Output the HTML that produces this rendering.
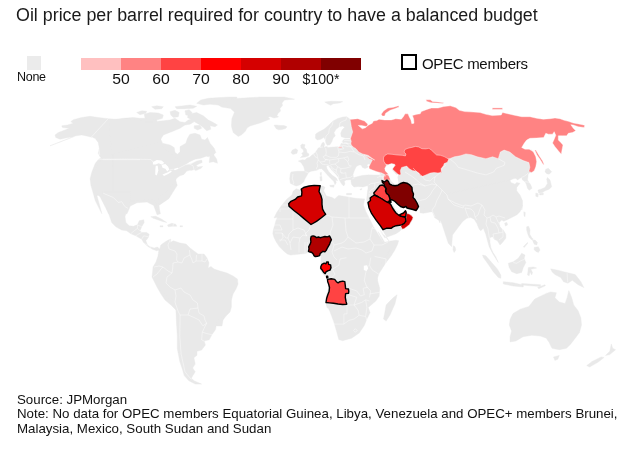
<!DOCTYPE html>
<html><head><meta charset="utf-8">
<style>
html,body{margin:0;padding:0;background:#fff;}
body{width:628px;height:450px;position:relative;overflow:hidden;font-family:"Liberation Sans",Arial,Helvetica,sans-serif;color:#111;}
#title{position:absolute;left:16px;top:4.5px;font-size:17.85px;line-height:20px;white-space:nowrap;color:#1a1a1a;}
#none-sw{position:absolute;left:27px;top:56px;width:14px;height:14px;background:#ebebeb;}
#none-lb{position:absolute;left:17px;top:70px;font-size:12.5px;line-height:14px;color:#111;letter-spacing:-0.3px;}
.sw{position:absolute;top:58px;height:12px;width:40px;}
.tk{position:absolute;top:71px;font-size:14.6px;line-height:16px;width:40px;text-align:center;color:#111;transform:scaleX(1.08);}
#opec-box{position:absolute;left:401px;top:54px;width:12px;height:12px;border:2px solid #000;box-sizing:content-box;}
#opec-lb{position:absolute;left:422px;top:55.4px;font-size:15px;line-height:17px;color:#111;letter-spacing:-0.3px;}
#foot{position:absolute;left:17px;top:393.2px;font-size:13.3px;line-height:14.25px;color:#111;white-space:nowrap;}
#map{position:absolute;left:0;top:0;}
</style></head>
<body>
<svg id="map" width="628" height="450" viewBox="0 0 628 450">
<g fill="#e9e9e9" stroke="#e9e9e9" stroke-width="0.4" stroke-linejoin="round">
<path d="M130.3,151.9L170.5,161.9L177.2,185.3L168.8,198.7L158.8,205.4L160.4,213.8L157.1,214.8L153.7,205.4L147.1,202.1L137.0,202.7L130.3,206.1L127.0,213.8L108.6,213.8L105.3,207.1L100.2,197.0L98.6,195.4L96.9,195.4L101.9,213.8L95.2,200.4L92.9,192.0L90.9,185.3L90.2,178.6L91.9,172.0L95.2,163.6L98.6,159.2L113.6,151.9Z"/>
<path d="M50.0,145.8L60.0,142.0L68.3,138.8L73.3,136.7L66.7,137.8L60.0,139.2L55.8,137.5L55.0,135.0L58.3,132.5L65.0,130.0L69.2,128.3L62.5,127.5L61.7,125.8L67.5,125.0L73.3,123.3L70.8,121.7L73.3,119.7L81.7,117.5L90.0,116.3L98.3,117.5L108.3,118.7L115.0,119.7L123.3,118.3L133.3,117.5L140.0,118.3L156.7,118.3L156.7,180.0L90.8,180.0L92.5,175.0L95.0,170.0L99.2,162.5L100.0,160.8L102.5,159.2L100.0,156.7L98.3,153.3L99.2,148.3L98.3,142.5L95.0,138.3L90.8,137.0L85.8,135.8L81.7,135.0L75.8,135.8Z"/>
<path d="M108.7,119.2L130.0,119.2L140.0,120.0L145.0,121.7L153.3,121.7L163.3,120.8L170.0,120.0L175.0,118.3L180.0,121.7L185.0,122.5L188.3,120.0L191.7,119.2L194.2,121.7L190.0,124.2L185.0,125.0L180.0,128.3L171.7,131.7L163.3,135.0L160.8,139.2L162.5,143.3L170.0,145.0L174.2,147.5L175.0,152.5L177.5,154.2L180.0,151.7L180.0,146.7L185.8,143.3L187.5,138.3L190.0,134.2L195.0,133.3L200.0,135.0L201.7,139.2L205.0,140.0L207.5,137.5L210.0,143.3L214.2,148.3L215.8,152.5L213.3,155.0L208.3,156.7L206.3,156.2L200.7,158.2L195.0,159.2L189.2,162.0L185.3,164.8L146.7,170.0L113.3,170.0Z"/>
<path d="M136.7,112.5L141.7,110.8L146.7,111.3L145.8,113.3L140.0,114.7Z"/>
<path d="M144.2,114.2L150.0,112.5L158.3,113.0L163.3,115.0L162.5,118.3L156.7,120.0L150.0,119.7L145.0,118.3Z"/>
<path d="M151.7,106.7L156.7,105.8L163.3,106.7L161.7,108.7L155.0,109.2Z"/>
<path d="M175.0,106.7L183.3,105.8L190.0,105.0L196.7,106.3L193.3,108.3L185.0,108.7L176.7,108.7Z"/>
<path d="M170.0,111.7L175.0,110.3L179.2,112.5L178.3,116.7L173.3,117.5L170.8,115.0Z"/>
<path d="M185.0,110.8L189.2,109.7L192.0,112.5L190.0,115.8L185.8,115.0Z"/>
<path d="M200.8,100.0L208.3,98.3L220.0,97.5L230.0,97.0L236.7,97.0L236.7,104.2L230.0,105.0L223.3,106.7L218.3,105.0L210.0,104.2L203.3,105.0L196.7,103.3Z"/>
<path d="M188.3,114.2L196.7,112.5L203.3,115.8L208.3,120.0L213.3,122.5L217.5,125.0L215.0,126.7L210.0,125.8L210.8,129.2L206.7,130.8L203.3,127.5L200.0,125.0L195.8,122.5L191.7,120.0L187.5,117.5Z"/>
<path d="M194.2,125.8L200.0,125.3L201.7,128.3L197.5,130.0L194.2,128.3Z"/>
<path d="M185.4,164.8L191.2,163.9L196.9,161.0L201.7,160.1L202.2,162.5L198.8,163.9L195.9,165.8L197.8,166.8L195.0,168.7L194.0,169.6L190.8,170.6L190.6,170.0L186.7,171.1L183.9,174.4L179.4,176.1L176.7,178.3L173.9,182.8L171.1,185.0L170.6,187.8L168.3,190.0L164.4,192.8L160.6,195.6L158.3,198.3L158.6,202.8L158.9,207.2L157.8,210.6L156.7,209.4L155.6,206.1L155.6,202.8L155.0,200.6L151.7,200.0L148.3,199.4L145.0,200.0L141.7,201.1L138.3,200.8L135.0,201.1L112.8,201.1L112.8,153.9L157.2,142.8Z"/>
<path d="M195.0,168.7L198.8,166.8L202.6,166.4L201.1,168.3L195.9,170.6L194.0,169.6Z"/>
<path d="M210.0,155.8L213.3,154.2L216.7,159.2L217.5,163.3L213.3,161.7L209.2,162.5Z"/>
<path d="M217.9,104.6L231.9,98.7L257.4,97.2L260.0,97.0L284.0,97.0L294.5,99.2L284.5,100.0L282.0,103.0L282.5,105.5L280.0,108.5L280.5,111.0L278.0,113.5L277.0,115.5L278.5,117.0L274.0,118.0L270.0,116.5L268.0,117.5L270.0,119.0L265.0,121.0L260.0,123.0L255.0,124.5L250.0,126.0L247.0,128.0L245.5,131.0L242.0,134.5L238.3,136.4L233.2,132.6L231.4,126.2L231.9,118.6L234.5,112.2L230.6,108.4L221.7,107.1Z"/>
<path d="M274.0,125.2L276.0,125.0L280.0,125.5L284.0,125.5L287.0,126.8L285.5,128.5L282.0,129.5L278.5,129.8L276.0,128.5L275.0,126.8Z"/>
<path d="M346.7,116.7L342.7,117.1L337.3,118.7L332.7,121.3L328.7,125.3L324.0,129.3L318.7,132.0L315.7,134.0L315.3,138.0L317.3,140.0L320.7,139.3L324.0,137.3L325.3,140.0L326.0,143.3L327.3,145.3L330.0,144.7L332.0,141.3L333.1,138.0L335.3,136.0L334.0,132.7L336.0,129.3L339.3,126.7L342.7,126.0L344.7,127.3L342.0,130.0L340.7,133.3L341.3,136.7L345.3,138.0L350.0,138.0L353.3,137.3L353.3,120.0L350.0,119.3Z"/>
<path d="M324.7,102.0L330.7,101.3L342.7,101.6L340.0,102.9L333.3,103.7L330.7,105.3L328.0,104.0Z"/>
<path d="M322.0,143.3L323.3,142.0L324.7,144.0L324.0,146.7L324.7,149.1L321.3,149.3L320.7,146.0Z"/>
<path d="M325.3,146.7L327.3,146.7L327.3,148.0L325.3,148.0Z"/>
<path d="M353.3,139.3L344.0,139.3L342.4,141.3L343.3,144.0L341.3,143.3L340.0,146.0L339.3,147.3L337.7,146.7L330.3,147.3L325.0,148.0L323.0,146.7L320.3,147.3L318.3,148.0L317.0,150.0L315.7,152.0L313.7,154.0L311.7,155.3L309.7,157.3L307.0,158.0L305.0,160.0L302.3,159.7L298.3,161.1L301.0,162.4L303.7,166.7L305.0,171.3L297.0,171.3L291.0,172.0L290.3,174.0L289.7,178.7L290.3,183.3L293.0,184.7L296.3,186.0L300.3,184.7L303.7,182.0L305.0,178.7L307.0,175.3L308.3,172.7L311.0,171.3L314.3,170.7L317.7,170.0L319.0,168.7L321.7,168.7L324.3,171.3L327.7,175.3L331.0,178.7L333.7,181.3L335.0,184.7L336.3,182.7L335.7,180.0L337.7,180.7L336.3,178.0L332.3,175.3L329.0,172.0L327.0,168.7L326.3,166.0L328.3,165.3L329.7,167.3L331.7,170.0L335.7,174.0L338.3,177.3L339.7,180.7L341.7,184.0L343.7,186.0L345.0,184.0L344.3,181.3L346.3,180.0L350.3,179.7L353.0,180.7L354.3,178.7L353.5,177.5L353.0,174.5L354.0,171.5L355.0,169.0L356.5,166.5L359.0,165.0L361.2,165.0L362.5,167.5L365.0,168.5L367.0,167.8L368.5,166.8L367.0,165.5L368.0,163.8L370.5,164.5L371.0,166.0L385.0,166.0L385.0,145.0Z"/>
<path d="M353.5,177.8L358.0,176.5L362.0,175.5L367.0,175.0L373.0,175.5L379.0,176.5L383.5,176.5L391.0,177.5L405.0,185.0L405.0,205.0L369.0,205.0L367.0,200.0L367.5,197.0L368.0,193.0L368.5,188.0L368.0,185.5L363.0,187.0L358.0,186.5L354.0,187.0L352.0,185.0L351.5,184.0L351.0,181.0L352.0,178.5Z"/>
<path d="M302.3,144.0L305.0,144.7L304.3,147.3L306.3,149.3L307.0,152.7L309.0,154.0L308.3,156.0L305.0,157.1L300.3,157.6L303.0,155.3L301.7,153.3L303.7,152.0L303.0,149.3L301.0,148.0L300.7,145.3Z"/>
<path d="M292.3,150.0L295.7,148.7L297.7,150.0L297.0,153.3L293.0,154.4L291.0,152.7Z"/>
<path d="M329.7,185.3L334.3,185.1L333.7,187.3L330.3,186.7Z"/>
<path d="M319.9,176.7L321.7,176.3L322.1,180.7L320.3,181.1Z"/>
<path d="M320.3,172.7L321.4,172.4L321.3,175.7L320.5,175.3Z"/>
<path d="M346.5,193.4L351.6,193.4L351.6,194.7L346.5,194.7Z"/>
<path d="M360.0,189.2L362.0,188.5L361.8,189.5L360.2,190.0Z"/>
<path d="M420.0,183.3L420.0,212.7L423.3,213.3L431.7,211.7L436.7,213.3L434.0,216.0L438.3,216.7L441.7,223.3L445.0,233.3L448.3,243.3L451.7,246.7L451.7,245.0L452.5,235.0L457.5,228.3L462.5,221.7L466.7,218.3L470.8,217.5L474.2,219.2L476.7,223.3L479.2,229.2L480.8,230.8L483.3,228.3L485.8,234.2L487.5,240.8L489.2,246.7L492.5,253.3L496.7,260.0L498.3,262.5L495.8,256.7L493.0,252.5L490.8,247.5L490.0,242.5L490.0,237.5L492.5,236.7L494.2,239.2L497.5,240.8L500.0,245.0L502.5,242.5L505.8,238.3L505.8,234.2L503.3,230.0L500.0,226.7L499.2,222.5L501.7,220.0L503.7,221.2L506.7,220.0L511.7,217.5L516.7,215.0L520.0,211.7L521.7,208.3L522.5,205.0L521.7,210.0L522.5,205.0L522.5,200.8L520.0,195.0L516.7,190.8L516.7,187.5L520.0,183.3L516.7,182.5L515.0,184.2L510.8,182.5L510.0,180.0L513.3,177.5L515.8,178.3L517.5,180.0L520.0,178.3L521.7,177.5L522.5,180.0L525.0,181.7L526.3,184.2L527.5,188.3L529.2,190.3L532.0,188.3L530.8,185.0L527.5,180.0L528.3,173.3L530.8,171.7L530.0,160.0L486.7,150.0L420.0,150.0Z"/>
<path d="M453.3,245.8L455.0,246.7L455.8,250.0L454.2,252.5L453.0,250.0Z"/>
<path d="M504.7,223.0L507.0,222.5L507.5,225.0L505.3,226.0Z"/>
<path d="M523.8,211.7L525.3,212.5L525.0,216.7L524.0,215.8Z"/>
<path d="M545.8,169.2L548.3,168.3L551.7,171.7L549.2,174.2L546.7,173.7L545.0,171.7Z"/>
<path d="M547.5,177.5L550.0,180.0L551.7,186.7L549.2,189.2L545.0,190.8L542.5,192.5L538.7,193.0L538.0,190.0L540.8,189.2L545.0,187.5L547.5,183.3L546.7,179.2Z"/>
<path d="M539.7,193.3L543.3,193.3L543.3,194.7L539.7,195.0Z"/>
<path d="M535.8,193.0L538.3,193.7L538.0,197.0L535.8,196.3Z"/>
<path d="M526.7,226.7L528.7,226.3L530.0,230.0L529.7,234.2L531.7,237.5L533.3,239.2L532.0,240.0L529.2,237.5L527.5,233.3L526.7,230.0Z"/>
<path d="M532.5,240.3L535.0,240.0L537.5,242.5L536.7,245.0L534.2,244.2Z"/>
<path d="M534.2,247.5L538.3,246.7L540.0,250.0L538.3,252.5L535.8,251.3L534.2,249.7Z"/>
<path d="M523.3,246.7L527.5,242.5L528.0,243.0L524.2,247.5Z"/>
<path d="M508.3,263.3L513.3,261.7L518.3,258.3L521.7,253.3L525.0,255.0L524.2,258.3L525.8,262.5L523.3,267.5L521.7,272.5L516.7,273.7L511.7,271.7L509.2,267.5Z"/>
<path d="M482.5,255.0L485.8,255.8L491.7,262.5L497.5,269.2L500.8,275.0L500.8,278.3L498.3,277.5L493.3,271.7L487.5,263.3L483.3,257.5Z"/>
<path d="M503.3,281.7L513.3,282.7L523.3,285.0L523.3,287.0L513.3,286.0L503.3,284.0Z"/>
<path d="M528.3,267.5L533.3,267.0L536.7,268.0L533.3,268.7L530.8,269.2L532.5,272.5L531.7,275.0L530.0,271.7L529.2,275.8L527.5,275.0L528.0,270.8Z"/>
<path d="M510.1,319.4L513.0,313.6L520.3,309.2L528.9,306.4L534.7,299.1L540.5,296.2L546.3,293.4L550.6,291.9L556.4,292.8L554.9,297.7L559.3,302.0L565.1,303.5L567.1,297.7L568.8,290.5L571.7,297.7L573.7,304.9L578.1,310.7L580.9,317.9L581.5,325.1L579.5,332.4L575.2,338.2L570.8,343.9L566.5,348.3L559.3,349.7L552.0,348.3L549.2,342.5L546.3,338.2L540.5,336.1L531.8,335.3L523.1,336.7L515.9,341.0L510.1,341.9L510.1,336.7L511.6,330.9L509.3,325.1Z"/>
<path d="M553.5,356.9L559.3,355.5L557.8,359.2L554.9,360.4Z"/>
<path d="M586.7,365.6L592.5,361.3L601.2,356.9L604.1,357.5L598.3,362.1L589.6,367.1Z"/>
<path d="M605.5,355.5L609.8,351.2L611.3,343.9L612.7,348.3L615.6,349.7L609.8,354.6Z"/>
<path d="M550.6,268.8L557.8,270.2L563.6,271.7L575.2,274.6L580.9,281.8L583.8,287.6L578.1,284.7L572.3,280.3L567.9,283.2L563.6,281.8L560.7,277.5L554.9,274.6L552.0,271.7Z"/>
<path d="M521.7,283.5L530.4,284.1L540.5,284.7L540.5,286.4L530.4,285.8L521.7,285.0Z"/>
<path d="M537.6,287.6L544.8,284.7L545.4,285.8L538.8,288.7Z"/>
<path d="M293.0,191.3L296.3,188.7L299.7,190.0L301.7,188.7L306.3,187.3L311.7,186.4L320.3,186.0L323.0,186.0L325.0,187.3L323.7,190.7L325.0,193.3L326.3,196.0L331.7,197.3L334.6,198.9L338.6,195.4L345.3,196.6L355.4,198.3L364.6,198.9L363.4,205.0L365.9,211.7L369.3,218.3L372.6,225.0L376.6,231.7L380.6,238.3L383.9,243.7L378.0,231.7L382.0,237.7L384.7,242.3L390.7,241.0L396.0,240.3L398.7,240.7L397.3,245.0L394.7,250.3L391.3,255.7L386.7,261.7L382.7,267.7L379.3,273.0L377.3,278.3L376.7,285.0L376.6,288.3L356.7,301.1L327.1,308.0L326.1,302.7L326.7,297.6L328.0,292.9L329.9,288.2L328.6,283.5L327.1,279.7L326.1,276.9L323.3,274.1L321.0,271.2L319.9,268.0L321.4,263.7L324.2,259.9L323.3,256.1L320.5,255.2L315.8,256.1L309.0,252.3L305.1,253.5L300.7,254.0L295.1,254.6L290.6,255.1L287.3,254.0L283.4,250.7L279.5,246.8L276.1,241.8L273.9,237.3L272.8,233.4L273.4,229.5L274.5,226.1L275.6,221.7L277.3,217.2L274.0,218.0L277.0,212.0L282.0,205.0L287.0,199.0L292.0,195.0Z"/>
<path d="M320.9,265.3L322.2,273.0L326.0,276.8L328.1,280.7L328.6,288.3L326.0,297.3L326.0,303.7L329.8,311.3L333.7,321.6L336.7,331.8L338.8,339.5L342.6,340.7L351.6,338.2L359.2,333.1L364.3,325.4L366.9,319.0L370.0,312.6L368.2,307.5L375.8,301.1L379.2,296.0L379.7,288.3L377.6,280.7L376.6,273.0L379.7,265.3L384.8,257.7L389.9,250.0L320.9,250.0Z"/>
<path d="M384.8,312.6L383.5,319.0L386.1,321.1L389.9,315.2L395.0,303.7L397.1,294.7L393.7,297.3L389.9,301.1L386.1,305.0Z"/>
<path d="M130.8,191.7L130.0,204.2L126.7,210.0L125.0,216.7L125.8,222.5L129.2,225.8L133.3,226.3L137.5,224.7L139.2,220.8L143.7,219.7L144.2,222.5L141.7,226.7L140.0,230.8L141.7,232.5L146.7,232.5L149.2,234.2L148.3,237.5L145.8,240.8L147.5,245.0L150.0,246.7L154.2,248.0L157.5,247.0L159.7,249.2L159.2,250.0L156.7,250.8L152.5,249.2L148.3,246.7L144.2,243.3L141.7,239.2L135.8,235.8L130.8,233.7L126.7,230.8L121.7,230.0L115.8,226.7L111.7,222.5L109.2,215.0L105.8,205.0L103.3,195.0L103.3,191.7Z"/>
<path d="M150.8,216.7L155.8,216.3L161.7,219.2L166.7,222.5L163.3,221.7L158.3,220.0L153.3,218.3Z"/>
<path d="M167.5,225.0L171.7,223.3L175.8,224.2L176.7,226.3L171.7,226.3L168.3,226.7Z"/>
<path d="M160.0,225.8L163.0,225.8L163.0,226.8L160.0,226.8Z"/>
<path d="M180.0,225.8L182.5,225.8L182.5,226.7L180.0,226.7Z"/>
<path d="M159.7,249.2L160.8,245.0L164.2,242.5L168.3,240.0L170.8,239.2L170.3,242.5L173.3,240.8L180.0,243.0L186.0,244.0L190.0,248.0L194.0,251.0L198.0,254.0L204.0,254.0L207.0,258.0L209.0,263.0L208.0,268.0L211.0,266.4L214.0,269.0L220.0,271.0L227.0,273.0L233.0,276.0L237.4,279.0L238.0,284.0L236.0,289.0L233.0,294.0L231.4,300.0L231.4,307.0L230.0,312.0L226.0,316.0L223.0,320.0L222.0,326.0L177.4,326.0L177.4,320.0L177.0,316.0L176.0,310.0L171.0,305.0L165.0,300.0L161.0,294.0L157.0,287.0L154.0,281.0L152.0,277.0L152.6,272.0L153.0,267.0L156.0,262.0L158.0,256.0L159.0,249.0Z"/>
<path d="M233.5,290.0L231.0,297.7L229.7,307.9L225.8,315.6L219.5,318.1L216.4,323.2L215.6,329.6L211.8,334.7L209.2,339.8L204.1,341.1L205.4,345.0L201.6,350.1L197.0,351.3L197.0,355.2L193.9,357.7L195.2,364.1L192.6,368.0L195.2,371.8L191.3,378.2L193.9,380.7L201.6,384.1L195.2,384.1L188.8,380.7L184.2,375.6L182.4,369.2L179.8,361.6L177.3,348.8L177.3,336.0L176.5,323.2L176.0,310.4L174.7,300.2L168.3,297.7L160.7,290.0Z"/>
<path d="M380.0,150.0L532.0,150.0L532.0,172.0L510.0,180.0L420.0,200.0L380.0,200.0Z"/>
<path d="M368.0,188.3L367.3,193.7L366.7,199.0L367.3,203.7L367.7,203.7L371.0,211.0L375.7,219.7L380.3,226.3L385.0,234.3L389.0,241.0L380.0,230.3L384.7,237.7L390.7,235.7L396.0,233.7L400.0,231.0L402.7,228.3L406.7,226.3L409.3,224.3L411.3,221.7L413.3,217.7L411.3,215.0L408.0,213.9L406.4,211.7L404.7,213.0L402.7,214.3L400.0,214.7L398.0,213.0L397.6,210.3L396.7,211.0L395.3,208.3L392.7,204.6L390.9,201.0L393.3,201.0L396.0,203.3L399.3,205.9L402.7,207.7L406.0,207.0L407.3,209.0L410.7,209.9L415.3,210.3L418.7,207.7L424.0,208.3L429.3,209.9L432.7,212.3L434.7,217.7L438.7,220.3L440.0,223.0L440.0,175.0L368.0,175.0Z"/>
</g>
<path fill="#ff8383" stroke="#fff" stroke-width="0.4" stroke-linejoin="round" d="M350.0,119.4L357.8,118.7L364.5,121.0L367.9,124.3L366.7,126.6L361.2,125.4L358.3,125.4L362.3,128.8L365.6,127.7L367.9,125.4L372.3,123.2L373.4,121.0L376.8,120.5L379.0,119.2L384.6,119.9L391.3,119.9L395.7,118.7L401.3,119.2L403.5,116.5L405.1,113.8L408.0,113.8L409.1,116.5L410.9,119.9L411.8,123.7L414.0,123.2L413.6,118.7L412.4,115.4L416.9,114.3L420.2,113.8L421.4,111.6L426.9,109.4L431.4,108.0L438.1,108.0L443.7,106.5L450.3,105.8L455.9,107.6L459.3,110.3L464.8,111.6L473.7,112.1L480.0,112.5L485.9,114.3L492.3,115.6L501.2,115.0L502.5,112.5L513.3,115.0L521.7,116.7L530.0,116.7L536.7,118.3L543.3,119.2L550.0,118.7L555.0,118.0L560.0,118.7L564.2,120.3L568.3,121.3L573.3,123.0L580.0,124.2L584.7,125.3L584.2,127.5L578.3,126.7L573.3,125.0L570.8,124.7L573.3,128.3L575.8,130.8L572.5,132.5L568.3,133.3L566.7,135.8L562.5,135.8L558.3,135.8L558.3,140.0L560.8,142.5L563.0,145.0L562.0,150.0L561.3,154.2L558.3,150.8L555.0,146.7L552.5,143.0L554.2,139.2L555.8,135.3L554.2,131.7L552.5,134.2L548.3,134.2L545.8,133.3L543.7,137.5L536.7,138.0L530.0,138.3L526.7,140.0L524.2,143.3L521.7,147.5L525.0,149.2L529.2,149.2L533.3,151.7L535.8,156.7L536.7,161.7L535.8,166.7L534.2,170.8L531.7,172.5L529.2,171.7L528.9,171.1L529.9,167.3L528.9,162.5L523.2,160.6L515.5,156.8L509.8,152.0L504.1,150.1L500.3,152.0L498.3,158.7L492.6,156.8L485.9,158.7L477.3,156.8L471.6,154.8L465.9,153.9L460.1,155.8L454.4,156.8L449.6,158.7L444.2,159.1L434.1,155.3L429.0,151.5L416.2,148.9L407.3,151.5L406.0,156.6L392.0,156.6L385.6,157.8L385.0,162.3L386.3,165.5L384.8,168.5L385.5,171.0L387.5,173.0L389.0,175.0L387.0,174.5L386.0,176.0L384.3,174.3L381.7,173.0L377.0,171.7L372.3,170.0L369.3,168.7L369.0,166.7L370.3,164.0L372.3,160.0L369.5,159.0L367.0,157.0L364.0,155.0L374.7,160.0L372.7,158.7L368.0,155.3L362.7,154.0L358.7,152.0L356.0,148.7L352.7,146.7L350.7,144.0L351.3,141.3L350.4,138.7L351.3,136.0L352.7,132.0L351.3,126.7L350.7,122.7Z"/>
<path fill="#ff8383" stroke="#fff" stroke-width="0.4" stroke-linejoin="round" d="M381.2,114.3L383.5,110.9L387.9,108.0L393.5,107.2L398.4,105.8L399.1,106.9L394.6,108.7L390.2,110.3L385.7,113.2L384.6,116.1L382.4,116.1Z"/>
<path fill="#ff8383" stroke="#fff" stroke-width="0.4" stroke-linejoin="round" d="M425.8,99.8L430.3,99.8L432.5,101.4L438.1,102.0L443.7,102.7L443.0,103.6L437.0,103.1L431.4,102.7L426.9,101.4Z"/>
<path fill="#ff8383" stroke="#fff" stroke-width="0.4" stroke-linejoin="round" d="M338.7,146.9L342.0,146.9L342.0,147.7L338.7,147.7Z"/>
<path fill="#ff8383" stroke="#fff" stroke-width="0.4" stroke-linejoin="round" d="M534.7,150.0L535.8,150.0L539.2,155.8L542.5,160.8L544.2,164.7L543.0,164.2L540.0,159.2L537.0,155.0Z"/>
<path fill="#ff8383" stroke="#fff" stroke-width="0.4" stroke-linejoin="round" d="M492.3,107.9L502.5,107.9L502.5,109.4L492.3,109.4Z"/>
<path fill="#ff4343" stroke="#fff" stroke-width="0.4" stroke-linejoin="round" d="M383.7,157.2L385.0,155.3L387.6,154.0L392.0,154.3L397.1,155.0L402.2,155.3L405.4,155.9L406.0,154.0L404.1,152.1L404.8,149.6L407.9,148.3L411.8,147.4L415.6,146.4L418.8,147.0L421.9,148.7L425.8,148.9L429.0,148.3L431.5,150.2L434.1,152.7L436.6,155.0L440.4,155.3L444.2,156.6L448.7,159.1L447.4,162.3L444.2,163.6L443.6,165.5L441.1,168.7L441.7,172.5L437.9,172.9L434.1,172.5L430.2,173.1L427.0,174.4L422.6,176.3L420.7,175.7L418.8,173.1L416.2,171.2L412.4,170.6L409.2,168.7L406.7,166.1L404.1,166.8L401.6,167.4L400.3,170.6L400.9,174.4L399.0,175.0L397.1,173.4L394.6,171.2L392.6,169.3L393.3,167.4L395.2,165.5L394.6,164.2L391.4,163.6L388.2,164.8L385.6,164.2L384.1,161.7L383.4,159.1Z"/>
<path fill="#ff8383" stroke="#fff" stroke-width="0.4" stroke-linejoin="round" d="M384.0,175.5L387.0,174.5L389.0,176.0L390.0,178.5L389.7,181.2L388.0,179.5L385.0,181.0L383.5,179.0Z"/>
<path fill="#d50000" stroke="#fff" stroke-width="0.4" stroke-linejoin="round" d="M406.7,213.6L409.1,214.0L411.4,215.6L413.0,217.5L412.2,219.8L410.6,222.2L409.5,224.5L406.7,226.8L404.4,228.4L402.5,229.2L400.9,226.5L401.7,224.9L404.4,223.3L406.0,221.0L406.0,217.9L406.3,215.2Z"/>
<path fill="#d50000" stroke="#fff" stroke-width="0.4" stroke-linejoin="round" d="M405.6,210.9L406.5,210.9L406.7,212.8L405.8,212.8Z"/>
<path fill="#fff" d="M391.5,164.0L394.5,164.5L394.0,167.0L392.2,168.5L392.5,170.5L394.5,172.5L396.2,174.5L398.5,174.5L397.5,177.0L398.0,180.0L398.5,183.0L396.5,184.5L394.5,184.0L391.5,181.5L390.0,178.5L389.0,175.5L387.5,173.0L385.5,171.0L384.8,168.5L386.5,166.0L389.0,164.5Z"/>
<path fill="#fff" d="M152.9,162.0L156.8,160.1L161.5,160.6L164.4,162.9L161.5,164.5L158.7,163.3L155.8,164.5L152.9,164.5Z"/>
<path fill="#fff" d="M155.8,165.8L157.7,165.8L158.3,170.6L156.8,175.4L155.2,174.4L155.4,168.7Z"/>
<path fill="#fff" d="M161.5,164.8L165.4,163.9L168.2,166.8L169.2,169.6L167.3,171.5L165.4,168.7L162.5,167.7Z"/>
<path fill="#fff" d="M162.5,174.4L167.3,172.5L171.1,170.6L171.7,171.7L168.2,174.0L164.0,175.9Z"/>
<path fill="#fff" d="M173.6,169.0L177.8,167.7L178.7,168.7L174.9,170.2Z"/>
<path fill="#fff" d="M391.7,201.0L394.3,200.7L396.3,203.3L398.7,205.7L402.0,207.3L405.3,207.5L406.7,208.3L406.0,210.0L404.7,211.3L403.0,213.0L400.0,212.3L397.3,211.3L395.3,209.0L393.3,205.7L391.7,203.3Z"/>
<path fill="#fff" d="M363.8,265.8L366.9,265.3L368.2,268.4L366.4,271.0L363.8,269.9Z"/>
<path fill="none" stroke="#fff" stroke-width="0.5" stroke-linejoin="round" stroke-opacity="0.85" d="M108.3,118.7L91.7,136.7L95.8,140.8L98.7,147.5L99.7,155.0 M102.5,159.7L140.0,159.7 M91.8,159.3L130.0,159.1L151.0,159.5L152.9,162.0 M169.2,170.0L173.6,169.2 M178.7,168.3L185.4,164.8L189.2,163.9L193.1,165.8L194.0,169.6 M103.3,193.3L113.3,197.5L118.3,202.5L121.7,201.7L125.0,206.7L128.0,208.3 M130.8,233.7L134.2,230.8L137.5,228.3L140.0,230.8 M137.5,228.3L137.5,225.0L141.7,226.7 M135.8,235.8L139.2,233.7L141.7,232.5 M141.7,239.2L143.7,235.8L148.3,236.7 M144.2,243.3L147.5,245.0 M150.0,246.7L150.8,248.7 M173.3,223.7L173.0,226.3 M170.0,240.0L168.0,245.0L169.0,249.0L175.0,251.0L177.0,254.0L176.6,260.0L178.0,262.0 M178.0,262.0L182.0,263.0L184.0,258.0L188.0,256.0L190.0,255.0L189.4,250.0 M190.0,255.0L192.0,260.0L193.0,263.0L196.0,261.0L196.6,255.0 M196.0,261.0L202.0,261.0L202.0,254.0 M202.0,261.0L205.0,262.0L207.0,259.0 M178.0,262.0L173.0,263.0L172.6,269.0L172.0,273.0 M154.0,267.0L159.0,266.0L163.0,267.0L168.0,271.0L172.0,273.0 M153.0,277.0L157.0,274.0L161.0,269.0L163.0,267.0 M172.0,273.0L167.0,277.0L166.0,283.0L170.0,287.0L175.0,290.0 M175.0,290.0L176.0,296.0L175.0,302.0L176.6,307.0L178.0,311.0L180.0,315.0 M175.0,290.0L181.0,288.0L184.0,292.0L190.0,295.0L193.0,300.0L197.4,303.0L198.0,308.0 M180.0,315.0L188.0,315.0L190.0,309.0L198.0,308.0L199.0,313.0L204.0,316.0L205.0,320.0 M188.0,315.0L193.0,317.0L199.0,320.0 M180.1,315.0L179.8,336.0L181.1,353.9L185.0,371.8L191.3,379.5 M204.9,319.9L206.7,323.2L204.1,328.3L202.3,332.2L201.6,339.8L204.1,341.1 M202.3,332.2L206.7,333.5L211.8,334.7 M199.0,319.9L202.8,325.8L206.7,323.2 M282.0,205.0L289.0,205.0L289.0,200.0 M280.0,212.0L280.0,209.0L289.0,209.0L289.0,205.0 M293.0,205.0L293.0,219.0L275.0,219.0 M293.0,219.0L293.0,230.0L289.0,234.0L288.0,238.0L290.0,243.0L291.0,250.0 M273.0,225.0L280.0,225.0L282.0,230.0L274.0,230.0 M275.0,233.0L282.0,233.0L286.0,238.0L288.0,238.0 M279.0,240.0L285.0,240.0L288.0,245.0 M282.0,233.0L283.0,237.4L280.0,241.4 M299.0,243.0L299.0,252.6 M305.0,242.0L305.0,253.0 M307.2,242.0L308.0,253.0 M293.0,230.0L298.0,228.0L304.0,230.0L307.0,236.0L303.0,235.0L300.0,238.0L293.0,237.0L290.0,243.0 M299.0,243.0L300.0,238.0 M311.0,224.0L309.0,230.0L305.0,234.0L307.0,236.0 M332.0,217.0L333.0,225.0L330.0,233.0L331.0,237.4 M349.0,197.0L349.0,218.0L345.0,218.0L332.0,217.0L326.0,214.6 M349.0,218.0L372.0,218.0 M345.0,218.0L346.0,231.0L348.0,237.0L345.0,241.0L342.0,243.0L334.0,245.0L331.0,239.0 M348.0,237.0L356.0,243.0L364.0,242.0L370.0,239.0L372.0,228.0L377.0,223.0 M334.0,245.0L332.0,252.0L334.0,257.0L337.0,260.0 M334.0,251.0L342.0,247.0L348.0,249.0L356.0,248.0L362.0,250.0L366.0,253.0L372.0,251.0L374.0,245.0L370.0,239.0 M322.0,202.0L325.0,197.0L323.0,193.0 M372.0,228.0L379.0,230.0L384.0,235.0 M374.0,245.0L382.0,245.0L388.0,242.0 M332.4,269.2L335.0,274.3L331.1,278.1L328.1,280.2 M332.4,269.2L338.8,265.3L340.1,258.9L346.5,257.7 M349.0,288.3L356.7,290.9L360.5,296.0L364.3,294.7L363.1,288.3L368.2,287.1 M368.2,265.3L365.6,273.0L364.3,280.7L366.9,287.1L370.7,290.9L369.5,297.3 M369.5,265.3L372.0,269.9L381.0,275.6 M369.5,294.0L379.7,292.2 M354.1,305.0L361.8,302.4L365.6,299.8L369.5,301.1 M347.0,305.0L352.8,305.0L354.1,305.0 M347.0,305.0L347.0,313.9L343.9,313.9L343.9,324.1L333.7,324.1 M343.9,324.1L349.0,320.3L354.1,319.0L359.2,315.2L358.0,310.1L354.1,305.0 M359.2,315.2L365.6,316.5L366.9,320.3 M365.6,299.8L366.9,307.5L365.6,316.5 M353.6,330.5L355.4,328.7L357.2,330.5L355.4,332.3L353.6,330.5 M370.7,257.7L369.5,265.3 M374.6,256.4L386.1,258.9L384.8,269.2 M348.5,294.7L356.7,297.3L354.1,305.0 M293.0,174.0L292.3,178.7L293.7,182.7L293.0,184.7 M305.0,171.7L308.3,172.7 M313.7,154.0L315.0,156.7L317.7,158.0L318.3,160.0L317.0,163.3L317.7,166.0L316.3,168.7L317.7,170.0 M315.7,152.0L317.0,154.0L317.7,158.0 M319.9,147.6L323.0,146.9 M325.7,148.0L326.3,152.7L325.7,155.3L323.0,156.7L325.0,159.3L327.7,160.0 M318.3,160.0L320.3,162.0L325.0,161.3L325.7,159.3L329.7,160.0 M337.7,147.3L339.0,152.0L338.3,156.0L336.3,157.3L330.3,157.3L325.7,155.3 M320.3,162.0L321.7,164.0L325.0,164.7L328.3,164.7 M329.7,160.0L329.7,163.3L331.0,164.7L335.0,164.0L339.0,161.3L338.3,158.7L334.3,159.3L329.7,160.0 M338.3,158.7L343.7,158.0L347.7,161.3L349.0,165.3L351.7,166.0 M341.0,168.7L346.3,168.0L351.0,166.7 M335.0,164.0L337.7,166.7L341.0,168.7L340.3,172.0L342.3,174.0 M328.3,165.3L331.0,166.0L333.0,168.7L336.3,170.0L337.7,166.7 M331.0,167.3L333.0,170.7L336.3,172.7L336.3,170.0 M336.3,172.7L338.3,175.3L339.0,178.0 M339.0,152.0L345.0,152.7L350.3,151.3L354.3,152.0 M345.7,142.7L349.0,145.3L351.7,148.0L354.3,152.0L359.0,154.7L363.7,156.0L365.0,160.0 M342.3,146.0L343.7,148.7L339.0,150.0 M343.7,142.7L347.7,143.3 M339.7,180.0L342.3,178.7L346.3,178.0L350.3,177.3L352.3,176.0L353.7,176.7 M340.3,172.0L343.7,173.3L345.7,172.7L346.3,178.0 M352.3,178.7L354.3,178.0 M343.7,158.0L347.7,156.7L349.0,160.0L347.7,161.3 M333.1,121.3L332.0,125.3L329.3,128.7L328.7,133.3L326.0,136.0L325.3,140.0 M339.3,126.7L340.0,122.7L342.7,121.3L346.0,120.0L346.7,117.3 M344.0,140.4L350.7,140.7 M342.7,143.7L346.7,143.3L351.3,144.0 M340.0,146.0L344.0,145.6L348.0,146.7L352.7,146.7 M383.5,176.5L382.0,180.0L379.5,182.0L375.0,183.0L371.0,183.5L368.5,185.0 M375.0,183.0L374.5,188.0L371.0,190.0L369.0,192.0 M368.5,193.0L370.5,192.2 M368.0,195.0L369.5,194.5L369.0,197.0 M446.0,165.0L442.0,168.0L441.0,172.0L435.0,177.0L434.0,182.0L437.0,185.0 M422.0,176.0L425.0,180.0L430.0,181.0L433.0,178.0L435.0,177.0 M405.0,172.0L413.0,177.0L420.0,183.0L425.0,186.0 M413.0,185.0L418.0,184.0L425.0,186.0L432.0,184.0L437.0,185.0 M437.0,185.0L433.0,190.0L430.0,195.0L426.0,199.0L418.0,201.0L414.0,199.0 M437.0,185.0L442.0,190.0L440.0,195.0L437.0,200.0L435.0,206.0L432.0,210.0L435.0,217.0 M442.0,190.0L447.0,195.0L448.0,199.0L455.0,203.0L463.0,206.0L465.0,205.0L471.0,206.0L478.0,203.0L482.0,205.0L480.0,209.0 M448.0,199.0L454.0,205.0L463.0,208.0L464.0,206.0 M465.0,208.0L471.0,209.0L474.0,212.0L475.0,217.0 M465.0,208.0L467.0,214.0L469.0,218.0 M480.0,209.0L478.0,215.0L475.0,217.0L477.0,220.0 M482.0,205.0L485.0,210.0L484.0,215.0L487.0,218.0L490.0,217.0 M487.0,218.0L486.0,224.0L488.0,229.0L489.0,236.0L490.0,240.0 M490.0,217.0L493.0,215.0L496.0,217.0L499.0,216.0L505.0,218.0 M496.0,217.0L498.0,222.0L502.0,227.0L503.0,232.0 M490.0,217.0L491.0,222.0L495.0,223.0L498.0,228.0L499.0,233.0 M493.0,234.0L499.0,233.0L503.0,232.0L503.0,237.0L499.0,240.0 M493.0,234.0L494.0,239.0 M422.0,176.0L417.0,172.0L413.0,168.0 M525.0,181.7L530.8,182.5 M521.7,177.5L525.0,175.8L528.3,173.0 M567.1,273.1L567.7,282.4 M513.3,262.5L516.7,263.3L520.8,260.8L524.7,259.2 M377.0,177.5L379.7,176.7L381.7,176.7L384.3,176.0L386.0,176.1 M381.7,176.7L383.0,178.3L384.3,179.5 M379.7,176.7L380.3,174.3L381.7,173.1 M449.6,158.7L455.4,163.4L458.2,167.3L467.8,170.1L477.3,173.0L485.9,174.9L493.6,172.0L496.4,168.2L504.1,165.4L505.0,162.5L498.3,158.7"/>
<path fill="#800000" stroke="#000" stroke-width="1.4" stroke-linejoin="round" d="M382.0,180.5L384.5,182.0L387.0,180.0L388.5,181.5L389.5,184.0L392.0,185.2L395.0,185.8L398.0,185.2L400.5,183.5L403.5,182.5L407.0,183.2L410.0,185.2L412.0,187.5L412.2,191.0L413.5,194.0L413.0,197.5L415.0,199.5L417.0,203.0L418.5,206.5L417.5,208.5L416.0,210.5L413.0,209.5L409.0,208.5L407.0,208.0L406.0,206.5L403.5,207.5L400.5,206.5L397.5,204.0L395.0,201.5L392.5,200.0L390.0,199.5L389.5,197.5L388.5,195.0L386.5,193.5L385.5,191.0L386.0,188.5L384.5,186.5L384.0,184.0L382.5,182.5Z"/>
<path fill="#ff4343" stroke="#000" stroke-width="1.4" stroke-linejoin="round" d="M380.0,185.5L382.5,185.0L384.5,186.5L386.0,188.5L385.5,191.0L386.5,193.5L388.5,195.0L389.5,197.5L390.0,199.5L389.2,201.5L387.5,202.3L385.0,201.0L382.0,199.0L378.5,197.0L374.5,195.0L373.8,193.0L376.0,190.5L378.0,188.0Z"/>
<path fill="#d50000" stroke="#000" stroke-width="1.4" stroke-linejoin="round" d="M368.0,202.5L370.5,200.5L370.2,198.0L372.0,196.5L374.5,195.0L378.5,197.0L382.0,199.0L385.0,201.0L387.5,202.3L389.5,203.0L391.0,205.0L392.5,208.0L394.5,211.0L396.0,213.0L398.5,215.0L400.5,216.0L400.9,215.1L403.3,216.3L405.5,217.9L405.9,221.0L404.3,223.4L401.7,224.9L399.3,225.3L396.2,225.7L393.1,226.9L391.0,228.3L386.3,228.3L383.0,229.7L380.3,225.7L376.3,220.3L371.7,213.7L369.0,207.7Z"/>
<path fill="#ff0000" stroke="#000" stroke-width="1.4" stroke-linejoin="round" d="M389.2,200.8L390.6,200.5L391.0,202.3L389.8,202.7Z"/>
<path fill="#ff0000" stroke="#000" stroke-width="1.4" stroke-linejoin="round" d="M399.8,214.6L403.5,213.0L405.5,210.8L406.2,213.0L405.7,216.5L403.2,216.8L400.5,216.0Z"/>
<path fill="#d50000" stroke="#000" stroke-width="1.4" stroke-linejoin="round" d="M301.3,189.0L304.3,187.2L309.2,186.0L314.1,185.4L320.2,185.8L319.6,188.4L319.0,191.5L320.8,195.2L322.0,199.4L322.0,204.3L322.6,209.2L323.9,211.6L325.7,214.3L321.4,217.8L316.5,221.4L311.0,224.5L308.0,222.0L303.7,218.4L299.4,214.7L294.5,211.0L289.0,206.2L288.7,203.7L290.9,201.3L295.2,199.4L297.6,197.0L301.6,195.8L301.9,192.1Z"/>
<path fill="#b00000" stroke="#000" stroke-width="1.4" stroke-linejoin="round" d="M311.2,236.4L313.1,235.9L315.0,236.5L316.5,237.6L318.4,237.0L320.2,237.7L322.4,237.1L324.9,236.5L327.4,236.9L329.6,236.0L330.5,237.9L331.4,239.8L330.5,241.6L329.6,244.1L328.3,246.3L327.1,248.5L326.2,250.4L324.9,251.9L323.0,251.3L321.5,252.5L320.2,253.5L319.6,255.6L317.4,256.3L315.3,256.6L314.0,255.6L313.1,253.8L311.5,252.2L309.7,252.0L308.4,251.3L309.0,248.8L308.7,246.9L310.0,244.4L310.9,242.0L310.6,238.8Z"/>
<path fill="#ff0000" stroke="#000" stroke-width="1.4" stroke-linejoin="round" d="M320.8,266.7L321.9,264.4L324.2,263.2L326.0,263.8L326.6,262.0L328.3,262.0L328.6,264.4L330.6,264.9L331.0,267.8L330.0,270.1L327.7,270.9L326.0,271.9L325.2,273.6L323.7,272.5L322.2,270.1L320.8,268.6Z"/>
<path fill="#ff4343" stroke="#000" stroke-width="1.4" stroke-linejoin="round" d="M327.5,279.4L331.2,278.8L334.7,279.4L336.4,281.7L338.1,282.9L339.9,281.7L342.7,281.1L344.8,281.7L345.3,285.7L345.6,288.6L348.5,289.0L348.8,291.5L348.5,293.3L345.6,293.6L345.3,297.3L346.0,301.4L346.8,304.2L342.7,304.5L338.1,304.0L333.5,303.3L329.5,302.9L326.0,302.5L326.6,298.5L327.7,295.0L329.1,291.5L329.5,287.5L328.6,284.0L327.7,281.7Z"/>
<path fill="#ff4343" stroke="#000" stroke-width="1.4" stroke-linejoin="round" d="M326.6,276.3L327.7,276.3L327.8,277.9L326.7,277.9Z"/>
</svg>
<div id="title">Oil price per barrel required for country to have a balanced budget</div>
<div id="none-sw"></div><div id="none-lb">None</div>
<div class="sw" style="left:81px;background:#ffc0c0"></div>
<div class="sw" style="left:121px;background:#ff8383"></div>
<div class="sw" style="left:161px;background:#ff4343"></div>
<div class="sw" style="left:201px;background:#ff0000"></div>
<div class="sw" style="left:241px;background:#d50000"></div>
<div class="sw" style="left:281px;background:#b00000"></div>
<div class="sw" style="left:321px;background:#800000"></div>
<div class="tk" style="left:101px">50</div>
<div class="tk" style="left:141px">60</div>
<div class="tk" style="left:181px">70</div>
<div class="tk" style="left:221px">80</div>
<div class="tk" style="left:261px">90</div>
<div class="tk" style="left:301px;transform:scaleX(0.97)">$100*</div>
<div id="opec-box"></div><div id="opec-lb">OPEC members</div>
<div id="foot">Source: JPMorgan<br>Note: No data for OPEC members Equatorial Guinea, Libya, Venezuela and OPEC+ members Brunei,<br>Malaysia, Mexico, South Sudan and Sudan</div>
</body></html>
